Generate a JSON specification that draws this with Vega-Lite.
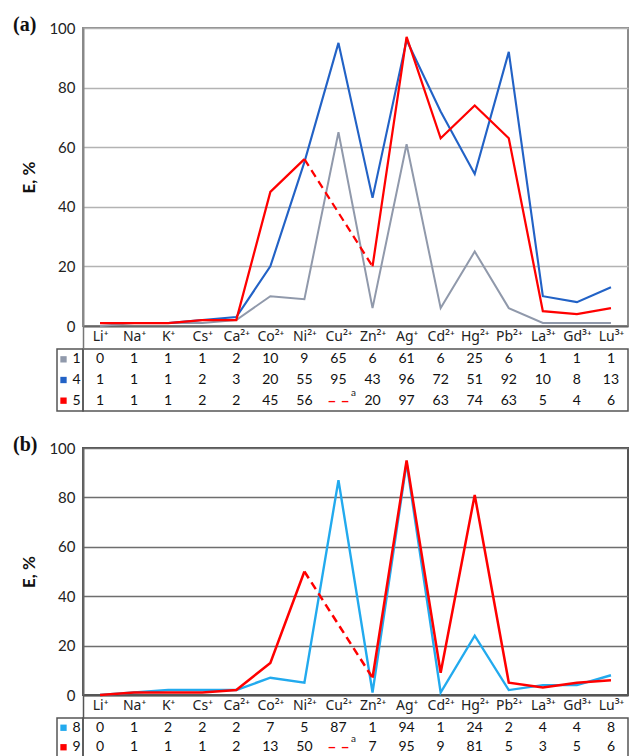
{
  "$schema": "https://vega.github.io/schema/vega-lite/v6.json",
  "background": "white",
  "padding": {"left": 12, "top": 14, "right": 0, "bottom": 0},
  "config": {
    "font": "Lato",
    "view": {"stroke": "#555555", "strokeWidth": 1.5},
    "axis": {"labelFont": "Lato", "titleFont": "Lato"}
  },
  "datasets": {
    "a": [
      {"s": "1", "ion": "Li⁺", "E": 0}, {"s": "1", "ion": "Na⁺", "E": 1}, {"s": "1", "ion": "K⁺", "E": 1}, {"s": "1", "ion": "Cs⁺", "E": 1},
      {"s": "1", "ion": "Ca²⁺", "E": 2}, {"s": "1", "ion": "Co²⁺", "E": 10}, {"s": "1", "ion": "Ni²⁺", "E": 9}, {"s": "1", "ion": "Cu²⁺", "E": 65},
      {"s": "1", "ion": "Zn²⁺", "E": 6}, {"s": "1", "ion": "Ag⁺", "E": 61}, {"s": "1", "ion": "Cd²⁺", "E": 6}, {"s": "1", "ion": "Hg²⁺", "E": 25},
      {"s": "1", "ion": "Pb²⁺", "E": 6}, {"s": "1", "ion": "La³⁺", "E": 1}, {"s": "1", "ion": "Gd³⁺", "E": 1}, {"s": "1", "ion": "Lu³⁺", "E": 1},
      {"s": "4", "ion": "Li⁺", "E": 1}, {"s": "4", "ion": "Na⁺", "E": 1}, {"s": "4", "ion": "K⁺", "E": 1}, {"s": "4", "ion": "Cs⁺", "E": 2},
      {"s": "4", "ion": "Ca²⁺", "E": 3}, {"s": "4", "ion": "Co²⁺", "E": 20}, {"s": "4", "ion": "Ni²⁺", "E": 55}, {"s": "4", "ion": "Cu²⁺", "E": 95},
      {"s": "4", "ion": "Zn²⁺", "E": 43}, {"s": "4", "ion": "Ag⁺", "E": 96}, {"s": "4", "ion": "Cd²⁺", "E": 72}, {"s": "4", "ion": "Hg²⁺", "E": 51},
      {"s": "4", "ion": "Pb²⁺", "E": 92}, {"s": "4", "ion": "La³⁺", "E": 10}, {"s": "4", "ion": "Gd³⁺", "E": 8}, {"s": "4", "ion": "Lu³⁺", "E": 13},
      {"s": "5", "ion": "Li⁺", "E": 1}, {"s": "5", "ion": "Na⁺", "E": 1}, {"s": "5", "ion": "K⁺", "E": 1}, {"s": "5", "ion": "Cs⁺", "E": 2},
      {"s": "5", "ion": "Ca²⁺", "E": 2}, {"s": "5", "ion": "Co²⁺", "E": 45}, {"s": "5", "ion": "Ni²⁺", "E": 56}, {"s": "5", "ion": "Cu²⁺", "E": null},
      {"s": "5", "ion": "Zn²⁺", "E": 20}, {"s": "5", "ion": "Ag⁺", "E": 97}, {"s": "5", "ion": "Cd²⁺", "E": 63}, {"s": "5", "ion": "Hg²⁺", "E": 74},
      {"s": "5", "ion": "Pb²⁺", "E": 63}, {"s": "5", "ion": "La³⁺", "E": 5}, {"s": "5", "ion": "Gd³⁺", "E": 4}, {"s": "5", "ion": "Lu³⁺", "E": 6}
    ],
    "b": [
      {"s": "8", "ion": "Li⁺", "E": 0}, {"s": "8", "ion": "Na⁺", "E": 1}, {"s": "8", "ion": "K⁺", "E": 2}, {"s": "8", "ion": "Cs⁺", "E": 2},
      {"s": "8", "ion": "Ca²⁺", "E": 2}, {"s": "8", "ion": "Co²⁺", "E": 7}, {"s": "8", "ion": "Ni²⁺", "E": 5}, {"s": "8", "ion": "Cu²⁺", "E": 87},
      {"s": "8", "ion": "Zn²⁺", "E": 1}, {"s": "8", "ion": "Ag⁺", "E": 94}, {"s": "8", "ion": "Cd²⁺", "E": 1}, {"s": "8", "ion": "Hg²⁺", "E": 24},
      {"s": "8", "ion": "Pb²⁺", "E": 2}, {"s": "8", "ion": "La³⁺", "E": 4}, {"s": "8", "ion": "Gd³⁺", "E": 4}, {"s": "8", "ion": "Lu³⁺", "E": 8},
      {"s": "9", "ion": "Li⁺", "E": 0}, {"s": "9", "ion": "Na⁺", "E": 1}, {"s": "9", "ion": "K⁺", "E": 1}, {"s": "9", "ion": "Cs⁺", "E": 1},
      {"s": "9", "ion": "Ca²⁺", "E": 2}, {"s": "9", "ion": "Co²⁺", "E": 13}, {"s": "9", "ion": "Ni²⁺", "E": 50}, {"s": "9", "ion": "Cu²⁺", "E": null},
      {"s": "9", "ion": "Zn²⁺", "E": 7}, {"s": "9", "ion": "Ag⁺", "E": 95}, {"s": "9", "ion": "Cd²⁺", "E": 9}, {"s": "9", "ion": "Hg²⁺", "E": 81},
      {"s": "9", "ion": "Pb²⁺", "E": 5}, {"s": "9", "ion": "La³⁺", "E": 3}, {"s": "9", "ion": "Gd³⁺", "E": 5}, {"s": "9", "ion": "Lu³⁺", "E": 6}
    ]
  },
  "spacing": 22,
  "vconcat": [
    {
      "columns": 2,
      "bounds": "flush",
      "spacing": {"row": 23, "column": 0},
      "concat": [
        {
          "width": 26, "height": 298,
          "data": {"values": [{"k": 1}]},
          "view": {"stroke": null},
          "mark": {"type": "text", "opacity": 0},
          "encoding": {"text": {"value": ""}}
        },
        {
          "width": 545, "height": 298,
          "data": {"name": "a"},
          "title": {"text": "(a)", "anchor": "start", "frame": "group", "font": "Liberation Serif", "fontSize": 20, "fontWeight": "bold", "color": "#111111", "dx": -70, "dy": 14, "offset": 0},
          "view": {"stroke": "#8c8c8c", "strokeWidth": 2},
          "encoding": {
            "x": {"field": "ion", "type": "nominal", "sort": null, "scale": {"type": "point", "padding": 0.5},
              "axis": {"title": null, "labelAngle": 0, "ticks": false, "grid": false, "domainColor": "#666666", "domainWidth": 2, "labelFont": "Noto Sans", "labelFontSize": 14, "labelColor": "#222222", "labelPadding": 3}},
            "y": {"field": "E", "type": "quantitative", "scale": {"domain": [0, 100]},
              "axis": {"title": "E, %", "values": [0, 20, 40, 60, 80, 100], "ticks": false, "labelFontSize": 15, "labelColor": "#222222", "labelPadding": 8, "domainColor": "#888888", "domainWidth": 2, "gridColor": "#b3b3b3", "gridWidth": 1.5, "titleFontSize": 17, "titleFontWeight": "bold", "titleColor": "#111111", "titlePadding": 10}},
            "color": {"field": "s", "type": "nominal", "scale": {"domain": ["1", "4", "5", "8", "9"], "range": ["#9099ab", "#2262c6", "#ff0000", "#22aaee", "#ff0000"]}, "legend": null},
            "strokeWidth": {"field": "s", "type": "nominal", "scale": {"domain": ["1", "4", "5", "8", "9"], "range": [2, 2.5, 3, 2, 3]}, "legend": null}
          },
          "layer": [
            {"mark": {"type": "line", "invalid": "break-paths-filter-domains"}},
            {"transform": [{"filter": "datum.s == '5' && (datum.ion == 'Ni²⁺' || datum.ion == 'Zn²⁺')"}],
             "mark": {"type": "line", "strokeDash": [8, 5]}}
          ]
        },
        {
          "width": 26, "height": 62,
          "data": {"name": "a"},
          "transform": [{"filter": "datum.ion == 'Li⁺'"}],
          "encoding": {"y": {"field": "s", "type": "nominal", "axis": null}},
          "layer": [
            {"mark": {"type": "square", "size": 40, "opacity": 1},
             "encoding": {
               "x": {"datum": "sq", "type": "nominal", "scale": {"type": "point", "domain": ["sq", "num"], "padding": 0.5}, "axis": null},
               "color": {"field": "s", "type": "nominal", "scale": {"domain": ["1", "4", "5", "8", "9"], "range": ["#8ea6d6", "#2262c6", "#ff0000", "#22aaee", "#ff0000"]}, "legend": null}}},
            {"mark": {"type": "text", "fontSize": 14, "color": "#111111"},
             "encoding": {
               "x": {"datum": "num", "type": "nominal", "scale": {"type": "point", "domain": ["sq", "num"], "padding": 0.5}, "axis": null},
               "text": {"field": "s"}}}
          ]
        },
        {
          "width": 545, "height": 62,
          "data": {"name": "a"},
          "encoding": {
            "x": {"field": "ion", "type": "nominal", "sort": null, "scale": {"type": "point", "padding": 0.5},
              "axis": {"orient": "top", "title": null, "labels": false, "domain": false, "grid": false, "ticks": true, "tickSize": 23, "tickOffset": -17, "tickWidth": 1.5, "tickColor": "#777777",
                "tickOpacity": {"condition": {"test": "datum.value == 'Li⁺'", "value": 1}, "value": 0}}},
            "y": {"field": "s", "type": "nominal", "axis": null}
          },
          "layer": [
            {"transform": [{"filter": "datum.E != null"}], "mark": {"type": "text", "fontSize": 14, "color": "#111111"}, "encoding": {"text": {"field": "E"}}},
            {"transform": [{"filter": "datum.E == null"}], "mark": {"type": "text", "fontSize": 16, "fontWeight": "bold", "color": "#ff0000", "text": "– –"}},
            {"transform": [{"filter": "datum.E == null"}], "mark": {"type": "text", "fontSize": 10, "color": "#222222", "text": "a", "dx": 15, "dy": -8}}
          ]
        }
      ]
    },
    {
      "columns": 2,
      "bounds": "flush",
      "spacing": {"row": 23, "column": 0},
      "concat": [
        {
          "width": 26, "height": 247,
          "data": {"values": [{"k": 1}]},
          "view": {"stroke": null},
          "mark": {"type": "text", "opacity": 0},
          "encoding": {"text": {"value": ""}}
        },
        {
          "width": 545, "height": 247,
          "data": {"name": "b"},
          "title": {"text": "(b)", "anchor": "start", "frame": "group", "font": "Liberation Serif", "fontSize": 20, "fontWeight": "bold", "color": "#111111", "dx": -70, "dy": 14, "offset": 0},
          "view": {"stroke": "#555555", "strokeWidth": 2},
          "encoding": {
            "x": {"field": "ion", "type": "nominal", "sort": null, "scale": {"type": "point", "padding": 0.5},
              "axis": {"title": null, "labelAngle": 0, "ticks": false, "grid": false, "domainColor": "#555555", "domainWidth": 2, "labelFont": "Noto Sans", "labelFontSize": 14, "labelColor": "#222222", "labelPadding": 3}},
            "y": {"field": "E", "type": "quantitative", "scale": {"domain": [0, 100]},
              "axis": {"title": "E, %", "values": [0, 20, 40, 60, 80, 100], "ticks": false, "labelFontSize": 15, "labelColor": "#222222", "labelPadding": 8, "domainColor": "#666666", "domainWidth": 2, "gridColor": "#6e6e6e", "gridWidth": 1.5, "titleFontSize": 17, "titleFontWeight": "bold", "titleColor": "#111111", "titlePadding": 10}},
            "color": {"field": "s", "type": "nominal", "scale": {"domain": ["1", "4", "5", "8", "9"], "range": ["#9099ab", "#2262c6", "#ff0000", "#22aaee", "#ff0000"]}, "legend": null},
            "strokeWidth": {"field": "s", "type": "nominal", "scale": {"domain": ["1", "4", "5", "8", "9"], "range": [2, 2.5, 3, 2, 3]}, "legend": null}
          },
          "layer": [
            {"mark": {"type": "line", "invalid": "break-paths-filter-domains"}},
            {"transform": [{"filter": "datum.s == '9' && (datum.ion == 'Ni²⁺' || datum.ion == 'Zn²⁺')"}],
             "mark": {"type": "line", "strokeDash": [8, 5]}}
          ]
        },
        {
          "width": 26, "height": 39,
          "data": {"name": "b"},
          "transform": [{"filter": "datum.ion == 'Li⁺'"}],
          "encoding": {"y": {"field": "s", "type": "nominal", "axis": null}},
          "layer": [
            {"mark": {"type": "square", "size": 40, "opacity": 1},
             "encoding": {
               "x": {"datum": "sq", "type": "nominal", "scale": {"type": "point", "domain": ["sq", "num"], "padding": 0.5}, "axis": null},
               "color": {"field": "s", "type": "nominal", "scale": {"domain": ["1", "4", "5", "8", "9"], "range": ["#8ea6d6", "#2262c6", "#ff0000", "#22aaee", "#ff0000"]}, "legend": null}}},
            {"mark": {"type": "text", "fontSize": 14, "color": "#111111"},
             "encoding": {
               "x": {"datum": "num", "type": "nominal", "scale": {"type": "point", "domain": ["sq", "num"], "padding": 0.5}, "axis": null},
               "text": {"field": "s"}}}
          ]
        },
        {
          "width": 545, "height": 39,
          "data": {"name": "b"},
          "encoding": {
            "x": {"field": "ion", "type": "nominal", "sort": null, "scale": {"type": "point", "padding": 0.5},
              "axis": {"orient": "top", "title": null, "labels": false, "domain": false, "grid": false, "ticks": true, "tickSize": 23, "tickOffset": -17, "tickWidth": 1.5, "tickColor": "#555555",
                "tickOpacity": {"condition": {"test": "datum.value == 'Li⁺'", "value": 1}, "value": 0}}},
            "y": {"field": "s", "type": "nominal", "axis": null}
          },
          "layer": [
            {"transform": [{"filter": "datum.E != null"}], "mark": {"type": "text", "fontSize": 14, "color": "#111111"}, "encoding": {"text": {"field": "E"}}},
            {"transform": [{"filter": "datum.E == null"}], "mark": {"type": "text", "fontSize": 16, "fontWeight": "bold", "color": "#ff0000", "text": "– –"}},
            {"transform": [{"filter": "datum.E == null"}], "mark": {"type": "text", "fontSize": 10, "color": "#222222", "text": "a", "dx": 15, "dy": -8}}
          ]
        }
      ]
    }
  ]
}
